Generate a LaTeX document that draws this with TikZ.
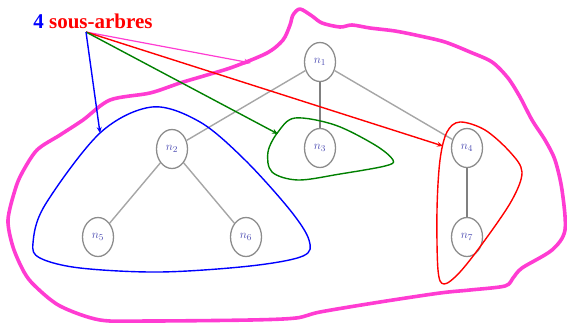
\documentclass[tikz,border=0pt]{standalone}
\usepackage{fontspec}
\setmainfont{Liberation Serif}
\usetikzlibrary{arrows.meta,shapes.geometric}
\definecolor{pinkm}{RGB}{255,60,210}
\begin{document}
\begin{tikzpicture}[x=1pt,y=-1pt,
  tnode/.style={draw=gray!90,line width=1.3pt,ellipse,minimum width=31pt,minimum height=39pt,inner sep=0pt,text=gray!60!blue,font=\fontsize{13}{13}\selectfont},
  lightedge/.style={draw=gray!70,line width=1.4pt},
  darkedge/.style={draw=gray,line width=1.6pt},
  hull/.style={line width=1.4pt},
  ptr/.style={line width=1.4pt,-{Stealth[length=6pt,width=5pt]}}]
\useasboundingbox (0,0) rectangle (567,322);
% big magenta region
\draw[pinkm,line width=3.6pt,line join=round] plot[smooth cycle,tension=0.5] coordinates {
(300,9) (312,16) (322,23) (340,27) (352,25) (370,28) (395,31) (420,36) (445,42) (470,52) (492,62) (508,78) (520,97) (532,120) (545,140) (555,160) (562,190) (565,230) (552,250) (522,268) (513,278) (505,286) (470,290) (440,293) (380,302) (320,312) (296,318) (250,320) (150,321) (100,320) (60,306) (35,286) (24,272) (13,247) (8,220) (15,190) (22,173) (37,150) (60,135) (83,120) (110,100) (150,93) (180,83) (207,75) (233,67) (267,53) (283,40) (290,25) (293,15)};
% nodes
\node[tnode] (n1) at (320,62) {$n_1$};
\node[tnode] (n2) at (172,149) {$n_2$};
\node[tnode] (n3) at (320,148) {$n_3$};
\node[tnode] (n4) at (467,148) {$n_4$};
\node[tnode] (n5) at (98,237) {$n_5$};
\node[tnode] (n6) at (246,237) {$n_6$};
\node[tnode] (n7) at (467,237) {$n_7$};
\draw[lightedge] (n1) -- (n2);
\draw[lightedge] (n1) -- (n4);
\draw[darkedge] (n1) -- (n3);
\draw[lightedge] (n2) -- (n5);
\draw[lightedge] (n2) -- (n6);
\draw[darkedge] (n4) -- (n7);
% subtree hulls
\draw[hull,blue] plot[smooth cycle,tension=0.55] coordinates {
(152,107) (200,122) (245,160) (290,210) (309,240) (303,256) (250,266) (160,272) (80,268) (40,258) (33,243) (45,205) (100,133)};
\draw[hull,green!50!black] plot[smooth cycle,tension=0.55] coordinates {
(295,118) (335,125) (375,145) (393,160) (385,166) (340,174) (298,180) (272,172) (268,152) (278,132)};
\draw[hull,red] plot[smooth cycle,tension=0.55] coordinates {
(460,122) (485,130) (510,152) (522,172) (512,200) (485,240) (460,272) (444,284) (438,270) (437,210) (440,160) (447,132)};
% title
\node[font=\fontsize{21}{21}\selectfont\bfseries,inner sep=0pt] (title) at (93,21) {\textcolor{blue}{4} \textcolor{red}{sous-arbres}};
\coordinate (src) at (86,32);
\coordinate (tm) at (251,63);
\coordinate (tr) at (443,146);
\coordinate (tg) at (278,134);
\coordinate (tb) at (100,133);
\draw[pinkm,line width=1.2pt,-{Stealth[length=7pt,width=6pt]}] (src) -- (tm);
\draw[ptr,red] (src) -- (tr);
\draw[ptr,green!50!black] (src) -- (tg);
\draw[ptr,blue] (src) -- (tb);
\end{tikzpicture}
\end{document}
